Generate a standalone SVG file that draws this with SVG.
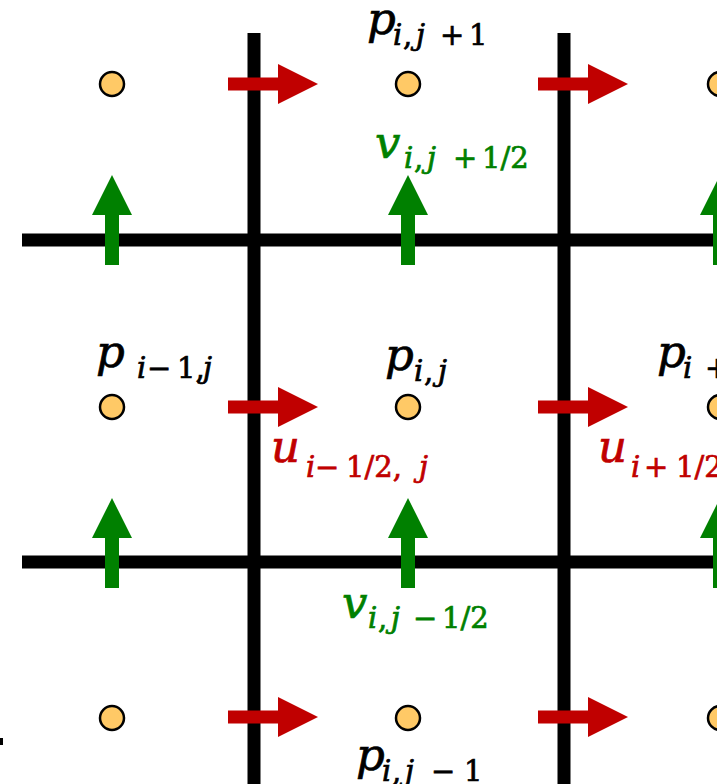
<svg xmlns="http://www.w3.org/2000/svg" width="717" height="784" viewBox="0 0 717 784">
<style>
.grid{stroke:#000;stroke-width:13;fill:none}
.pt{fill:#FFC966;stroke:#000;stroke-width:2.5}
.ua{fill:#C00000}
.va{fill:#008000}
.lbl{font-family:"DejaVu Serif","Liberation Serif",serif;font-style:italic;stroke-width:0.7}
.m{font-size:45px}
.s{font-size:29px}
.up{font-style:normal}
.k{fill:#000;stroke:#000}
.r{fill:#C00000;stroke:#C00000}
.g{fill:#008000;stroke:#008000}
</style>
<defs>
<path id="uarrow" d="M0,-6.5 H50 V-20 L90,0 L50,20 V6.5 H0 Z"/>
<path id="varrow" d="M-7,0 V-50 H-20 L0,-90 L20,-50 H7 V0 Z"/>
</defs>
<rect width="717" height="784" fill="#fff"/>
<g id="connectors">
<g id="grid">
<line class="grid" x1="254" y1="33" x2="254" y2="784"/>
<line class="grid" x1="564" y1="33" x2="564" y2="784"/>
<line class="grid" x1="22" y1="240" x2="717" y2="240"/>
<line class="grid" x1="22" y1="562" x2="717" y2="562"/>
<rect x="0" y="738" width="3" height="7" fill="#000"/>
</g>
<g id="u-arrows" class="ua">
<use href="#uarrow" x="228" y="84"/>
<use href="#uarrow" x="538" y="84"/>
<use href="#uarrow" x="228" y="407"/>
<use href="#uarrow" x="538" y="407"/>
<use href="#uarrow" x="228" y="717"/>
<use href="#uarrow" x="538" y="717"/>
</g>
<g id="v-arrows" class="va">
<use href="#varrow" x="112" y="265"/>
<use href="#varrow" x="408" y="265"/>
<use href="#varrow" x="720" y="265"/>
<use href="#varrow" x="112" y="588"/>
<use href="#varrow" x="408" y="588"/>
<use href="#varrow" x="720" y="588"/>
</g>
</g>
<g id="points">
<circle id="p-im1-jp1" class="pt" cx="112" cy="84" r="12"/>
<circle id="p-i-jp1" class="pt" cx="408" cy="84" r="12"/>
<circle id="p-ip1-jp1" class="pt" cx="720" cy="84" r="12"/>
<circle id="p-im1-j" class="pt" cx="112" cy="407" r="12"/>
<circle id="p-i-j" class="pt" cx="408" cy="407" r="12"/>
<circle id="p-ip1-j" class="pt" cx="720" cy="407" r="12"/>
<circle id="p-im1-jm1" class="pt" cx="112" cy="718" r="12"/>
<circle id="p-i-jm1" class="pt" cx="408" cy="718" r="12"/>
<circle id="p-ip1-jm1" class="pt" cx="720" cy="718" r="12"/>
</g>
<g id="labels" class="lbl">
<g id="lbl-p-i-jp1" class="k">
<text class="m" x="367" y="34">p</text>
<text class="s" y="45"><tspan x="393">i</tspan><tspan class="up" x="403">,</tspan><tspan x="416">j</tspan><tspan class="up" x="440">+</tspan><tspan class="up" x="469">1</tspan></text>
</g>
<g id="lbl-v-i-jp12" class="g">
<text class="m" x="375" y="158">v</text>
<text class="s" y="168"><tspan x="404">i</tspan><tspan class="up" x="414">,</tspan><tspan x="427">j</tspan><tspan class="up" x="453">+</tspan><tspan class="up" x="482">1/2</tspan></text>
</g>
<g id="lbl-p-im1-j" class="k">
<text class="m" x="96" y="367">p</text>
<text class="s" y="378"><tspan x="137">i</tspan><tspan class="up" x="147">−</tspan><tspan class="up" x="177">1,</tspan><tspan x="203">j</tspan></text>
</g>
<g id="lbl-p-i-j" class="k">
<text class="m" x="385" y="370">p</text>
<text class="s" y="381"><tspan x="414">i</tspan><tspan class="up" x="424">,</tspan><tspan x="438">j</tspan></text>
</g>
<g id="lbl-p-ip1-j" class="k">
<text class="m" x="657" y="367">p</text>
<text class="s" y="378"><tspan x="683">i</tspan><tspan class="up" x="705">+</tspan><tspan class="up" x="736">1,</tspan><tspan>j</tspan></text>
</g>
<g id="lbl-u-im12-j" class="r">
<text class="m" x="271" y="462">u</text>
<text class="s" y="477"><tspan x="306">i</tspan><tspan class="up" x="315">−</tspan><tspan class="up" x="346">1/2,</tspan><tspan x="419">j</tspan></text>
</g>
<g id="lbl-u-ip12-j" class="r">
<text class="m" x="598" y="462">u</text>
<text class="s" y="477"><tspan x="631">i</tspan><tspan class="up" x="644">+</tspan><tspan class="up" x="676">1/2,</tspan><tspan x="749">j</tspan></text>
</g>
<g id="lbl-v-i-jm12" class="g">
<text class="m" x="342" y="618">v</text>
<text class="s" y="628"><tspan x="368">i</tspan><tspan class="up" x="378">,</tspan><tspan x="391">j</tspan><tspan class="up" x="413">−</tspan><tspan class="up" x="442">1/2</tspan></text>
</g>
<g id="lbl-p-i-jm1" class="k">
<text class="m" x="356" y="770">p</text>
<text class="s" y="781"><tspan x="382">i</tspan><tspan class="up" x="392">,</tspan><tspan x="405">j</tspan><tspan class="up" x="431">−</tspan><tspan class="up" x="464">1</tspan></text>
</g>
</g>
</svg>
